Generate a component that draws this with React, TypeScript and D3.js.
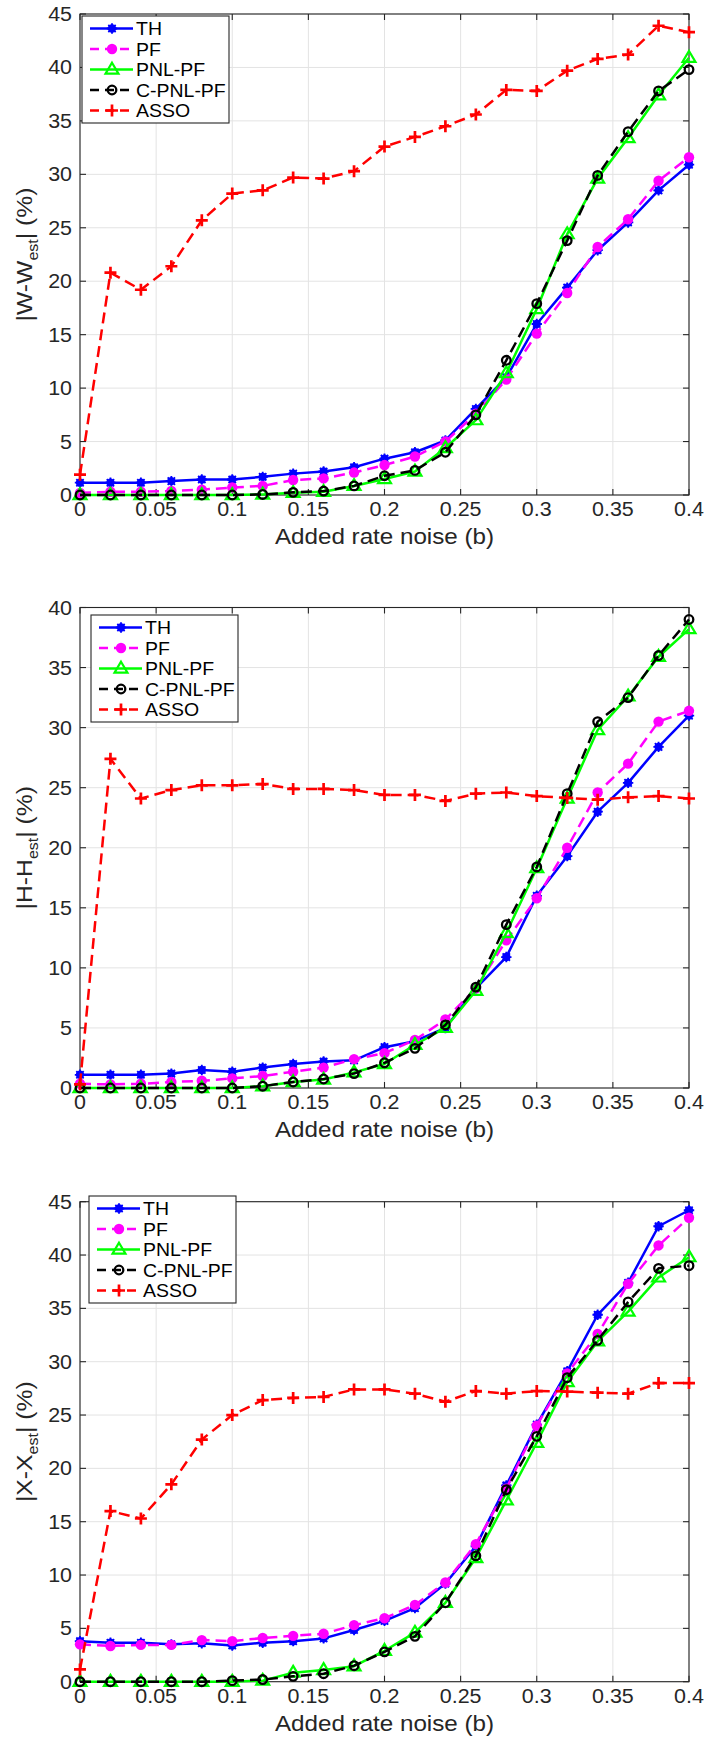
import React from 'react';
import * as d3 from 'd3';

// ---------- DATA ----------
const noiseLevels = [0, 0.02, 0.04, 0.06, 0.08, 0.1, 0.12, 0.14, 0.16, 0.18, 0.2, 0.22, 0.24, 0.26, 0.28, 0.3, 0.32, 0.34, 0.36, 0.38, 0.4];
const xTickValues = [0, 0.05, 0.1, 0.15, 0.2, 0.25, 0.3, 0.35, 0.4];
const xTickLabels = ['0', '0.05', '0.1', '0.15', '0.2', '0.25', '0.3', '0.35', '0.4'];
const seriesNames = ['TH', 'PF', 'PNL-PF', 'C-PNL-PF', 'ASSO'];
const xAxisTitle = 'Added rate noise (b)';

// Panel 1: |W - W_est| (%)
const wTH = [1.15, 1.15, 1.15, 1.3, 1.45, 1.45, 1.7, 2.0, 2.2, 2.6, 3.4, 4.0, 5.1, 8.05, 11.0, 16.0, 19.4, 22.9, 25.5, 28.5, 30.9];
const wPF = [0.2, 0.3, 0.3, 0.37, 0.5, 0.7, 0.85, 1.4, 1.55, 2.1, 2.8, 3.6, 5.0, 7.6, 10.8, 15.1, 18.9, 23.2, 25.8, 29.4, 31.6];
const wPNL = [0, 0, 0, 0, 0, 0, 0.05, 0.2, 0.3, 0.85, 1.5, 2.2, 4.4, 7.0, 11.4, 17.4, 24.4, 29.6, 33.4, 37.4, 40.9];
const wCPNL = [0, 0, 0, 0, 0, 0, 0.05, 0.25, 0.37, 0.85, 1.8, 2.3, 4.0, 7.5, 12.6, 17.9, 23.8, 29.9, 34.0, 37.8, 39.8];
const wASSO = [1.9, 20.8, 19.2, 21.4, 25.7, 28.2, 28.5, 29.7, 29.6, 30.3, 32.6, 33.5, 34.5, 35.6, 37.9, 37.8, 39.7, 40.8, 41.2, 43.9, 43.3];

// Panel 2: |H - H_est| (%)
const hTH = [1.1, 1.1, 1.1, 1.2, 1.5, 1.35, 1.7, 2.0, 2.2, 2.3, 3.4, 3.9, 5.0, 8.3, 10.9, 16.0, 19.3, 23.0, 25.4, 28.4, 31.0];
const hPF = [0.35, 0.3, 0.35, 0.5, 0.6, 0.8, 1.0, 1.35, 1.7, 2.4, 2.9, 4.0, 5.7, 8.3, 12.3, 15.8, 20.0, 24.6, 27.0, 30.5, 31.4];
const hPNL = [0, 0, 0, 0, 0, 0, 0.15, 0.5, 0.7, 1.3, 2.0, 3.6, 5.0, 8.1, 12.9, 18.3, 24.1, 29.8, 32.6, 35.9, 38.2];
const hCPNL = [0, 0, 0, 0, 0, 0, 0.15, 0.5, 0.75, 1.2, 2.1, 3.3, 5.25, 8.4, 13.6, 18.4, 24.5, 30.5, 32.5, 36.0, 39.0];
const hASSO = [0.3, 27.4, 24.1, 24.8, 25.2, 25.2, 25.3, 24.9, 24.9, 24.8, 24.4, 24.4, 23.9, 24.5, 24.6, 24.3, 24.15, 24.0, 24.2, 24.3, 24.1];

// Panel 3: |X - X_est| (%)
const xTH = [3.8, 3.65, 3.65, 3.5, 3.6, 3.4, 3.65, 3.8, 4.06, 4.85, 5.7, 6.9, 9.2, 12.7, 18.4, 24.1, 29.1, 34.4, 37.4, 42.7, 44.2];
const xPF = [3.5, 3.35, 3.45, 3.45, 3.9, 3.8, 4.1, 4.3, 4.5, 5.3, 5.95, 7.2, 9.3, 12.9, 18.1, 24.0, 28.9, 32.6, 37.3, 40.9, 43.5];
const xPNL = [0, 0, 0, 0, 0, 0, 0.1, 0.85, 1.1, 1.45, 2.9, 4.6, 7.4, 11.6, 17.0, 22.4, 28.1, 31.9, 34.7, 37.9, 39.8];
const xCPNL = [0, 0, 0, 0, 0, 0.1, 0.2, 0.5, 0.75, 1.5, 2.8, 4.25, 7.4, 11.8, 18.0, 23.0, 28.5, 32.0, 35.6, 38.75, 39.0];
const xASSO = [1.15, 16.0, 15.3, 18.5, 22.7, 25.0, 26.4, 26.6, 26.7, 27.4, 27.4, 27.0, 26.25, 27.25, 27.0, 27.25, 27.2, 27.1, 27.0, 28.0, 28.0];

// ---------- STYLE ----------
const FONT = '"Liberation Sans", Arial, Helvetica, sans-serif';
const AXIS = '#262626';
const GRID = '#e3e3e3';
const SX = 1.1;
const X0 = 80;
const X1 = 689;
const LW = 2.5;
const DASH = '11,6';

type MarkerKind = 'star' | 'dot' | 'tri' | 'circle' | 'plus';
const seriesStyles: { color: string; dash: string | null; marker: MarkerKind }[] = [
  { color: '#0000ff', dash: null, marker: 'star' },
  { color: '#ff00ff', dash: DASH, marker: 'dot' },
  { color: '#00ff00', dash: null, marker: 'tri' },
  { color: '#000000', dash: DASH, marker: 'circle' },
  { color: '#ff0000', dash: DASH, marker: 'plus' },
];

function Marker({ kind, x, y, color }: { kind: MarkerKind; x: number; y: number; color: string }) {
  if (kind === 'star') {
    const r = 5.2;
    const d = r * 0.707;
    return (
      <g>
        <circle cx={x} cy={y} r={4.2} fill={color} />
        <path
          d={`M${x - r},${y}L${x + r},${y}M${x},${y - r}L${x},${y + r}M${x - d},${y - d}L${x + d},${y + d}M${x - d},${y + d}L${x + d},${y - d}`}
          stroke={color}
          strokeWidth={1.8}
        />
      </g>
    );
  }
  if (kind === 'dot') return <circle cx={x} cy={y} r={5.2} fill={color} />;
  if (kind === 'tri') {
    const s = 6.8;
    return (
      <path
        d={`M${x},${y - s}L${x + s * 0.95},${y + s * 0.6}L${x - s * 0.95},${y + s * 0.6}Z`}
        fill="none"
        stroke={color}
        strokeWidth={2.2}
      />
    );
  }
  if (kind === 'circle') return <circle cx={x} cy={y} r={4.3} fill="none" stroke={color} strokeWidth={2.3} />;
  const p = 6;
  return <path d={`M${x - p},${y}L${x + p},${y}M${x},${y - p}L${x},${y + p}`} stroke={color} strokeWidth={2.7} />;
}

function Txt({ x, y, size, anchor, children, rotate, fill }: any) {
  return (
    <text
      transform={`translate(${x},${y})${rotate ? ' rotate(-90)' : ''} scale(${SX},1)`}
      fontSize={size}
      textAnchor={anchor || 'start'}
      fill={fill || AXIS}
      fontFamily={FONT}
    >
      {children}
    </text>
  );
}

type PanelProps = {
  top: number;
  bottom: number;
  yMax: number;
  letter: string;
  data: number[][];
  legendX: number;
  legendY: number;
};

function Panel({ top, bottom, yMax, letter, data, legendX, legendY }: PanelProps) {
  const x = d3.scaleLinear().domain([0, 0.4]).range([X0, X1]);
  const y = d3.scaleLinear().domain([0, yMax]).range([bottom, top]);
  const yTicks = d3.range(0, yMax + 0.001, 5);
  const line = d3
    .line<number>()
    .x((_, i) => x(noiseLevels[i]))
    .y((v) => y(v));
  const tl = 6;
  const mid = (top + bottom) / 2;
  const legW = 147;
  const legH = 107;
  const rowH = 20.5;

  return (
    <g>
      {xTickValues.map((t) => (
        <line key={'gx' + t} x1={x(t)} x2={x(t)} y1={top} y2={bottom} stroke={GRID} strokeWidth={1} />
      ))}
      {yTicks.map((t) => (
        <line key={'gy' + t} x1={X0} x2={X1} y1={y(t)} y2={y(t)} stroke={GRID} strokeWidth={1} />
      ))}
      <rect x={X0} y={top} width={X1 - X0} height={bottom - top} fill="none" stroke={AXIS} strokeWidth={1.1} />
      {xTickValues.map((t) => (
        <g key={'tx' + t}>
          <line x1={x(t)} x2={x(t)} y1={bottom} y2={bottom - tl} stroke={AXIS} strokeWidth={1.1} />
          <line x1={x(t)} x2={x(t)} y1={top} y2={top + tl} stroke={AXIS} strokeWidth={1.1} />
        </g>
      ))}
      {yTicks.map((t) => (
        <g key={'ty' + t}>
          <line x1={X0} x2={X0 + tl} y1={y(t)} y2={y(t)} stroke={AXIS} strokeWidth={1.1} />
          <line x1={X1} x2={X1 - tl} y1={y(t)} y2={y(t)} stroke={AXIS} strokeWidth={1.1} />
        </g>
      ))}
      {xTickValues.map((t, i) => (
        <Txt key={'lx' + t} x={x(t)} y={bottom + 21} size={19.5} anchor="middle">
          {xTickLabels[i]}
        </Txt>
      ))}
      {yTicks.map((t) => (
        <Txt key={'ly' + t} x={72} y={y(t) + 7} size={19.5} anchor="end">
          {String(t)}
        </Txt>
      ))}
      <Txt x={(X0 + X1) / 2} y={bottom + 49} size={22} anchor="middle">
        {xAxisTitle}
      </Txt>
      <Txt x={32} y={mid} size={22.5} anchor="middle" rotate>
        {`|${letter}-${letter}`}
        <tspan fontSize={14.5} dy={6}>
          est
        </tspan>
        <tspan dy={-6}>| (%)</tspan>
      </Txt>
      {data.map((vals, si) => {
        const st = seriesStyles[si];
        return (
          <g key={'s' + si}>
            <path
              d={line(vals) || ''}
              fill="none"
              stroke={st.color}
              strokeWidth={LW}
              strokeDasharray={st.dash || undefined}
              strokeLinejoin="round"
            />
            {vals.map((v, i) => (
              <Marker key={i} kind={st.marker} x={x(noiseLevels[i])} y={y(v)} color={st.color} />
            ))}
          </g>
        );
      })}
      <rect x={legendX} y={legendY} width={legW} height={legH} fill="#ffffff" stroke={AXIS} strokeWidth={1.1} />
      {seriesNames.map((name, i) => {
        const st = seriesStyles[i];
        const ry = legendY + 12.5 + i * rowH;
        return (
          <g key={'lg' + name}>
            <line
              x1={legendX + 8}
              x2={legendX + 51}
              y1={ry}
              y2={ry}
              stroke={st.color}
              strokeWidth={LW}
              strokeDasharray={st.dash ? '9,6' : undefined}
            />
            <Marker kind={st.marker} x={legendX + 30} y={ry} color={st.color} />
            <Txt x={legendX + 54} y={ry + 6.5} size={17.7} fill="#000000">
              {name}
            </Txt>
          </g>
        );
      })}
    </g>
  );
}

export default function App() {
  return (
    <svg
      width={707}
      height={1742}
      viewBox="0 0 707 1742"
      style={{ position: 'absolute', left: 0, top: 0, background: '#ffffff' }}
    >
      <rect x={0} y={0} width={707} height={1742} fill="#ffffff" />
      <Panel top={14} bottom={495} yMax={45} letter="W" data={[wTH, wPF, wPNL, wCPNL, wASSO]} legendX={82} legendY={16} />
      <Panel top={607.5} bottom={1088} yMax={40} letter="H" data={[hTH, hPF, hPNL, hCPNL, hASSO]} legendX={91} legendY={615} />
      <Panel top={1201.7} bottom={1681.7} yMax={45} letter="X" data={[xTH, xPF, xPNL, xCPNL, xASSO]} legendX={89} legendY={1196} />
    </svg>
  );
}
